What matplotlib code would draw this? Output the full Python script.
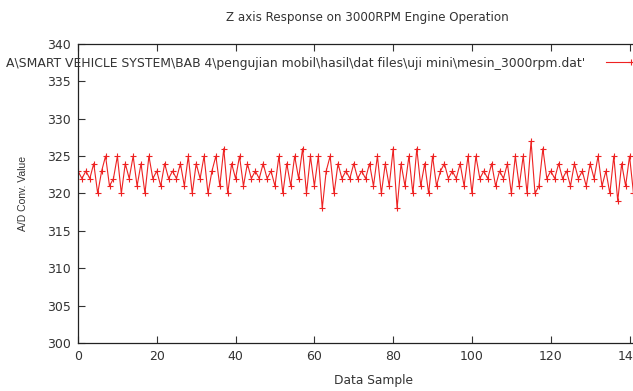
import matplotlib
matplotlib.use("Agg")
import matplotlib.pyplot as plt
import numpy as np

plt.rcParams["font.family"] = ["DejaVu Sans"]
plt.rcParams["text.color"] = "#333333"
plt.rcParams["axes.labelcolor"] = "#333333"

# Z axis A/D readings, 3000 RPM run
z_adc = [
    323, 322, 323, 322, 324, 320, 323, 325, 321, 322,
    325, 320, 324, 322, 325, 321, 324, 320, 325, 322,
    323, 321, 324, 322, 323, 322, 324, 321, 325, 320,
    324, 322, 325, 320, 323, 325, 321, 326, 320, 324,
    322, 325, 321, 324, 322, 323, 322, 324, 322, 323,
    321, 325, 320, 324, 321, 325, 322, 326, 320, 325,
    321, 325, 318, 323, 325, 320, 324, 322, 323, 322,
    324, 322, 323, 322, 324, 321, 325, 320, 324, 321,
    326, 318, 324, 321, 325, 320, 326, 321, 324, 320,
    325, 321, 323, 324, 322, 323, 322, 324, 321, 325,
    320, 325, 322, 323, 322, 324, 321, 323, 322, 324,
    320, 325, 321, 325, 320, 327, 320, 321, 326, 322,
    323, 322, 324, 322, 323, 321, 324, 322, 323, 321,
    324, 322, 325, 321, 323, 320, 325, 319, 324, 321,
    325, 320,
]
sample = np.arange(len(z_adc))
x_ticks = np.arange(0, 160, 20)
y_ticks = np.arange(300, 345, 5)
fname = "A\\SMART VEHICLE SYSTEM\\BAB 4\\pengujian mobil\\hasil\\dat files\\uji mini\\mesin_3000rpm.dat'"

fig = plt.figure(figsize=(6.33, 3.91), dpi=100)
# plot area runs past the right edge of the canvas
ax = fig.add_axes([0.1232, 0.1228, 0.9336, 0.7647])

ax.plot(sample, z_adc, "-", color="#ee2222", lw=0.8, marker="+", ms=5, mew=0.8,
        label=fname)

ax.set_xlim(0, 150)
ax.set_ylim(300, 340)
ax.set_xticks(x_ticks)
ax.set_yticks(y_ticks)
ax.tick_params(direction="in", length=5, width=0.8, top=True, right=True,
               labelsize=9, colors="#333333", pad=5)
for s in ax.spines.values():
    s.set_linewidth(0.9)
    s.set_color("#222222")

ax.set_xlabel("Data Sample", fontsize=8.8, labelpad=8)
ax.set_ylabel("A/D Conv. Value", fontsize=7.5, labelpad=14,
              family=["Liberation Sans", "DejaVu Sans"])
fig.text(0.58, 0.955, "Z axis Response on 3000RPM Engine Operation",
         fontsize=8.6, ha="center", va="center")

ax.legend(loc="upper right", bbox_to_anchor=(0.988, 0.978), frameon=False,
          markerfirst=False, fontsize=8.9, handlelength=4, handletextpad=1.7,
          borderpad=0, labelcolor="#333333")

fig.savefig("out.png", dpi=100)
